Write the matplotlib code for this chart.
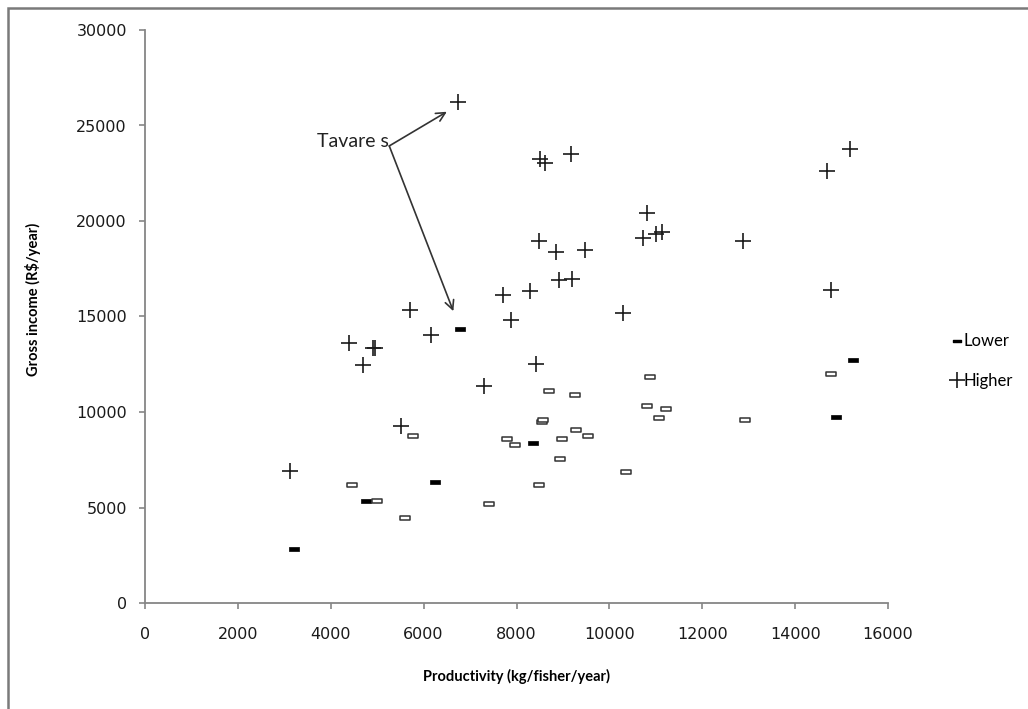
import matplotlib
matplotlib.use("Agg")
import matplotlib.pyplot as plt
from matplotlib.path import Path
from matplotlib.lines import Line2D
from matplotlib.patches import Rectangle

# Higher income group (plus markers)
higher_x = [3120, 4390, 4910, 4950, 4690, 5520, 5700, 6160, 6750, 7310, 7720, 7890,
            8280, 8410, 8480, 8500, 8610, 8850, 8910, 9170, 9200, 9470, 10290,
            10720, 10800, 11000, 11140, 12870, 14690, 14780, 15180]
higher_y = [6920, 13590, 13350, 13350, 12450, 9280, 15330, 14040, 26240, 11350, 16140, 14810,
            16330, 12500, 18940, 23240, 23060, 18370, 16890, 23530, 16980, 18500, 15160,
            19110, 20440, 19340, 19420, 18930, 22640, 16380, 23760]

# Lower income group, solid dashes
lower_x = [3200, 4750, 6240, 6790, 8360, 14870, 15250]
lower_y = [2830, 5350, 6310, 14340, 8380, 9720, 12740]

# Lower income group, open dashes
lower_open_x = [4460, 5000, 5600, 5780, 7400, 7790, 7970, 8480, 8550, 8580, 8690, 8930,
                8990, 9260, 9280, 9550, 10360, 10800, 10880, 11070, 11220, 12920, 14780]
lower_open_y = [6200, 5330, 4460, 8740, 5180, 8570, 8250, 6200, 9460, 9600, 11100, 7550,
                8570, 10870, 9040, 8720, 6840, 10320, 11820, 9670, 10160, 9600, 11980]

# label point: Tavares (two arrows)
tavares_text = "Tavare s"
tavares_xy = (5260, 23930)
tavares_targets = [(6500, 25720), (6640, 15280)]

gray = "#868686"

dash_marker = Path([(-1, -0.35), (1, -0.35), (1, 0.35), (-1, 0.35), (-1, -0.35)],
                   [Path.MOVETO, Path.LINETO, Path.LINETO, Path.LINETO, Path.CLOSEPOLY])
open_marker = Path([(-1, -0.5), (1, -0.5), (1, 0.5), (-1, 0.5), (-1, -0.5)],
                   [Path.MOVETO, Path.LINETO, Path.LINETO, Path.LINETO, Path.CLOSEPOLY])

fig = plt.figure(figsize=(10.28, 7.09), dpi=100)
ax = fig.add_axes([145 / 1028, 1 - 603 / 709, 743 / 1028, 573 / 709])

# outer chart frame (cut off on right and bottom)
frame_top = 1 - 8 / 709
fig.add_artist(Rectangle((8 / 1028, -0.05), 1.0, frame_top + 0.05, fill=False,
                         edgecolor="#7a7a7a", lw=1.8, transform=fig.transFigure,
                         clip_on=False, zorder=5))

ax.plot(higher_x, higher_y, linestyle="none", marker="+", ms=12, mew=1.2,
        color="#1a1a1a", label="Higher")
ax.plot(lower_x, lower_y, linestyle="none", marker=dash_marker, ms=6.5,
        color="black", mew=0.5, label="Lower")
ax.plot(lower_open_x, lower_open_y, linestyle="none", marker=open_marker, ms=6.5,
        mfc="white", mec="#333333", mew=1.1)

for target in tavares_targets:
    ax.annotate("", xy=target, xytext=tavares_xy,
                arrowprops=dict(arrowstyle="->", color="#333333", lw=1.2,
                                mutation_scale=16, shrinkA=0, shrinkB=0))
ax.text(tavares_xy[0], tavares_xy[1] + 250, tavares_text, ha="right", va="center",
        fontsize=14, family="Lato", color="#222222")

ax.set_xlim(0, 16000)
ax.set_ylim(0, 30000)
ax.set_xticks(range(0, 16001, 2000))
ax.set_yticks(range(0, 30001, 5000))

for side in ["top", "right"]:
    ax.spines[side].set_visible(False)
for side in ["left", "bottom"]:
    ax.spines[side].set_color(gray)
    ax.spines[side].set_linewidth(1.3)
ax.tick_params(direction="out", length=4, width=1.2, color=gray,
               labelsize=11.5, labelcolor="#1a1a1a")
ax.tick_params(axis="x", pad=13)
ax.tick_params(axis="y", pad=9)

ax.set_xlabel("Productivity (kg/fisher/year)", family="Lato", fontweight="bold", fontsize=10.5)
ax.set_ylabel("Gross income (R$/year)", family="Lato", fontweight="bold", fontsize=10.5)
ax.xaxis.set_label_coords(0.5, -0.115)
ax.yaxis.set_label_coords(-0.14, 0.53)

handles = [Line2D([], [], linestyle="none", marker=dash_marker, ms=6, color="black"),
           Line2D([], [], linestyle="none", marker="+", ms=12, mew=1.2, color="#1a1a1a")]
fig.legend(handles, ["Lower", "Higher"], loc="center left",
           bbox_to_anchor=(937 / 1028, 1 - 361 / 709), frameon=False,
           handlelength=0.6, handletextpad=0.1, labelspacing=1.4,
           prop={"family": "Lato", "size": 12})

fig.savefig("out.png", dpi=100)
